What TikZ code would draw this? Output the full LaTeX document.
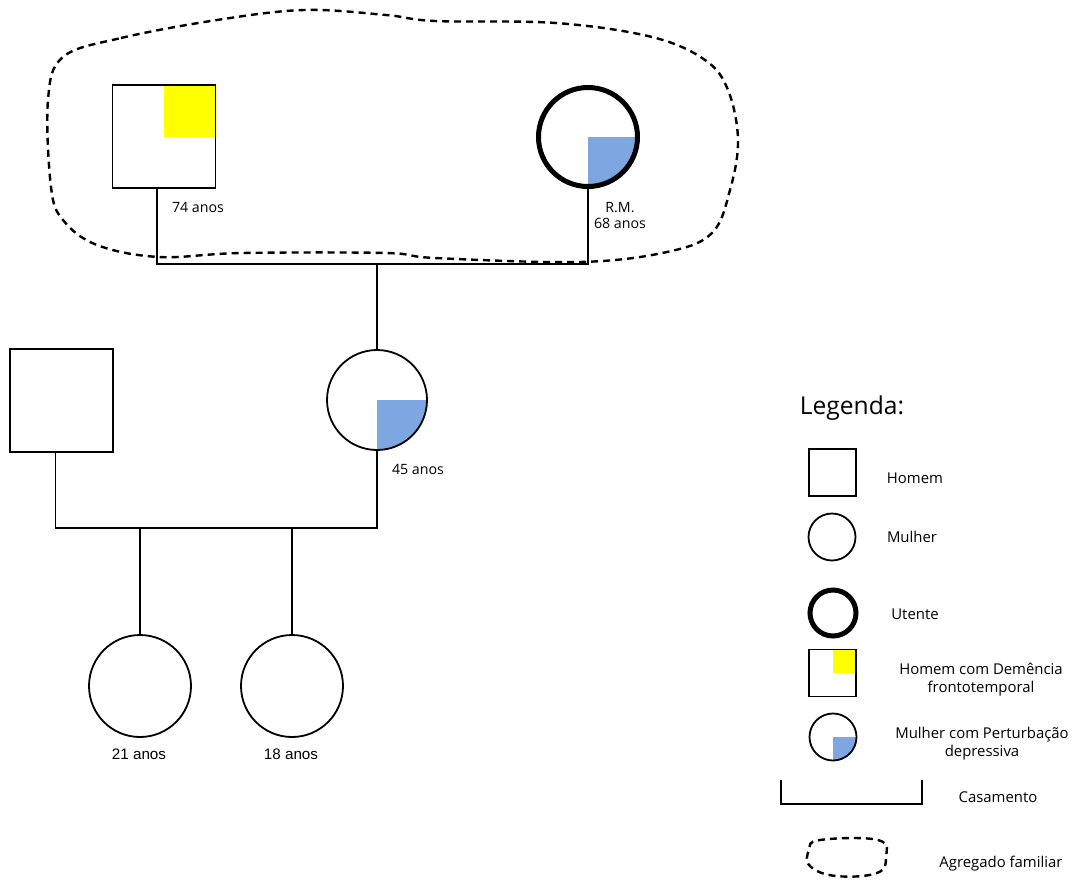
\documentclass[tikz,border=0pt]{standalone}
\usepackage{fontspec}
\setmainfont{Open Sans}
\newfontfamily\helv{Liberation Sans}
\usetikzlibrary{positioning,backgrounds}
\definecolor{Yolk}{HTML}{FFFF00}
\definecolor{Sky}{HTML}{7EA6E0}

\begin{document}
\begin{tikzpicture}[
  x=1pt,y=-1pt,
  man/.style={draw,line width=1.8pt,minimum size=#1,inner sep=0pt},
  woman/.style={circle,draw,line width=1.8pt,minimum size=#1,inner sep=0pt},
  patient/.style={woman=#1,line width=5pt},
  tie/.style={line width=1.5pt},
  household/.style={dash pattern=on 7pt off 5pt,line width=2.4pt},
  txt/.style={font=\fontsize{14.2}{18}\selectfont,align=center,inner sep=0pt},
  kid/.style={font=\helv\fontsize{15.2}{18}\selectfont,inner sep=0pt},
  key/.style={font=\fontsize{14.9}{18}\selectfont,align=center,inner sep=0pt}
]
\useasboundingbox (0,0) rectangle (1076,879);

% agregado familiar
\draw[household] plot[smooth cycle,tension=0.6] coordinates {
  (63,57) (121,38) (217,20) (304,10) (386,15) (435,21) (556,23) (652,37)
  (705,60) (728,90) (738,140) (730,190) (712,233) (667,252) (580,262)
  (435,258) (386,253) (242,253) (159,257) (97,245) (63,220) (51,187)
  (48,100)};

% avos
\node[man=103pt] (gf) at (164,136.5) {};
\node[patient=99pt] (gm) at (588,137) {};
\coordinate (wed1) at (377,264);
\draw[tie] ([xshift=-7pt]gf.south) |- (wed1) -| (gm.south);

% pais
\node[woman=100pt] (mo) at (377,400) {};
\node[man=103pt] (fa) at (61.5,400.5) {};
\draw[tie] (wed1) -- (mo.north);
\coordinate (wed2) at (216,528);
\draw[tie] ([xshift=-6pt]fa.south) |- (wed2) -| (mo.south);

% filhas
\node[woman=102pt] (d1) at (140,686) {};
\node[woman=102pt] (d2) at (292,686) {};
\draw[tie] (d1.north) -- (d1 |- wed2);
\draw[tie] (d2.north) -- (d2 |- wed2);

% idades
\node[txt] (agegf) at (198,207) {74 anos};
\node[txt] (agegm) at (620,215) {R.M.\\[-2pt]68 anos};
\node[txt] (agemo) at (418,469) {45 anos};
\node[kid] (aged1) at (139,754) {21 anos};
\node[kid] (aged2) at (291,754) {18 anos};

% legenda
\node[font=\fontsize{24.6}{30}\selectfont,inner sep=0pt] (legend) at (852,408) {Legenda:};
\node[man=47pt] (kman) at (832.5,472.5) {};
\node[key] at (915,478) {Homem};
\node[woman=47pt] (kwoman) at (832,537) {};
\node[key] at (912,537) {Mulher};
\node[patient=46pt] (kpat) at (833,613) {};
\node[key] at (915,614) {Utente};
\node[man=47pt] (kill) at (832.5,673) {};
\node[key] at (981,680) {Homem com Demência\\frontotemporal};
\node[woman=47pt] (kdep) at (833,737) {};
\node[key] at (982,744) {Mulher com Perturbação\\depressiva};
\coordinate (kwl) at (781,780);
\coordinate (kwr) at (922,780);
\draw[tie] (kwl) -- ++(0,24) -| (kwr);
\node[key] at (998,797) {Casamento};
\draw[household] plot[smooth cycle,tension=0.7] coordinates {
  (820,840) (878,840) (886,857) (877,873) (836,876) (810,866) (809,850)};
\node[key] at (1001,864) {Agregado familiar};

\begin{scope}[on background layer]
  \fill[Yolk] (gf.north east) rectangle (gf.center);
  \fill[Yolk] (kill.north east) rectangle (kill.center);
  \fill[Sky] (gm.center) -- ++(50pt,0) arc[start angle=0,end angle=-90,radius=50pt] -- cycle;
  \fill[Sky] (mo.center) -- ++(50pt,0) arc[start angle=0,end angle=-90,radius=50pt] -- cycle;
  \fill[Sky] (kdep.center) -- ++(23.5pt,0) arc[start angle=0,end angle=-90,radius=23.5pt] -- cycle;
\end{scope}
\end{tikzpicture}
\end{document}
